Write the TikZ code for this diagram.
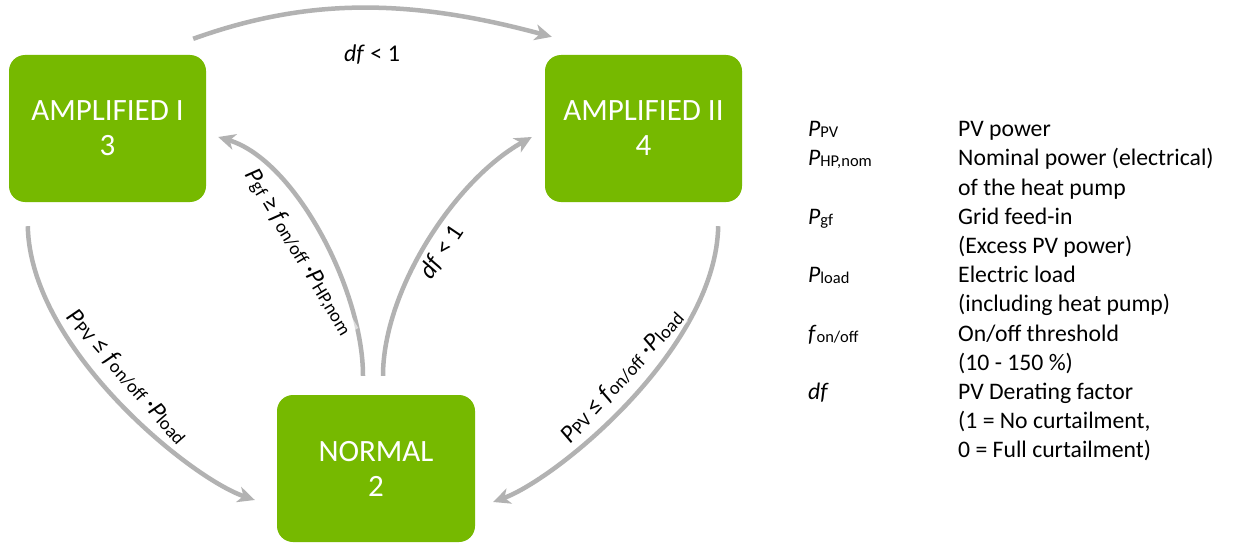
\documentclass[tikz,border=0pt]{standalone}
\usepackage{fontspec}
\setmainfont{Carlito}
\usetikzlibrary{arrows.meta}
\definecolor{boxgreen}{RGB}{118,185,0}
\definecolor{arrgray}{RGB}{178,178,178}
\newcommand\sbs[1]{\raisebox{-1pt}{\fontsize{16.5}{16.5}\selectfont #1}}
\newcommand\sbe[1]{\raisebox{-1pt}{\fontsize{18.5}{18.5}\selectfont #1}}
\begin{document}
\begin{tikzpicture}[x=1pt,y=-1pt,
 state/.style={fill=boxgreen, rounded corners=16pt, minimum width=197pt, minimum height=147pt, text=white, align=center, font=\fontsize{31}{35}\selectfont, inner sep=0pt},
 conn/.style={draw=arrgray, line width=4.5pt, -{Stealth[length=17pt,width=16pt,inset=5pt]}},
 elabel/.style={font=\fontsize{25}{28}\selectfont, fill=white, fill opacity=0.55, text opacity=1, inner sep=1pt},
 leg/.style={anchor=base west, font=\fontsize{23.7}{26}\selectfont, inner sep=0pt}]
\useasboundingbox[fill=white] (0,0) rectangle (1234,543);

\node[state] (a1) at (107.5,128.5) {AMPLIFIED I\\3};
\node[state] (a2) at (643.5,128.5) {AMPLIFIED II\\4};
\node[state, minimum width=198pt] (n) at (376,468.5) {NORMAL\\2};

% top: AMPLIFIED I -> AMPLIFIED II
\draw[conn] ([shift={(-13,-16)}]a1.north east) .. controls (307,-2) and (408,-2) .. ([shift={(7,-18)}]a2.north west);
\node[anchor=base, font=\fontsize{24}{26}\selectfont] (l1) at (372,62) {\textit{df} < 1};

% left: AMPLIFIED I -> NORMAL
\draw[conn] ([shift={(19,24)}]a1.south west) .. controls (30,348) and (190,478) .. ([shift={(-22,31.5)}]n.west);
\node[elabel, rotate=-48.7] (l2) at (127,377) {\textit{P}\sbe{PV} ≤ \textit{f}\sbe{on/off} ·\textit{P}\sbe{load}};

% right: AMPLIFIED II -> NORMAL
\draw[conn] ([shift={(-24,24)}]a2.south east) .. controls (716,348) and (558,478) .. ([shift={(18,33.5)}]n.east);
\node[elabel, rotate=47.7] (l3) at (622,377) {\textit{P}\sbe{PV} ≤ \textit{f}\sbe{on/off} ·\textit{P}\sbe{load}};

% middle left: NORMAL -> AMPLIFIED I
\draw[conn] ([shift={(-13,-19)}]n.north) .. controls (363,290) and (295,160) .. ([shift={(12,8.5)}]a1.east);
\node[elabel, rotate=-59] (l4) at (299,252) {\textit{P}\sbe{gf} ≥ \textit{f}\sbe{on/off} ·\textit{P}\sbe{HP,nom}};

% middle right: NORMAL -> AMPLIFIED II
\draw[conn] ([shift={(7,-19)}]n.north) .. controls (383,290) and (455,180) .. ([shift={(-13,8.5)}]a2.west);
\node[elabel, rotate=56] (l5) at (442,252) {\textit{df} < 1};

% legend
\node[leg] (s1) at (808,136.7) {\textit{P}\sbs{PV}};
\node[leg] (s2) at (808,165.9) {\textit{P}\sbs{HP,nom}};
\node[leg] (s3) at (808,224.3) {\textit{P}\sbs{gf}};
\node[leg] (s4) at (808,282.7) {\textit{P}\sbs{load}};
\node[leg] (s5) at (808,341.1) {\textit{f}\sbs{on/off}};
\node[leg] (s6) at (808,399.5) {\textit{df}};

\node[leg] (d1) at (958,136.7) {PV power};
\node[leg] (d2) at (958,165.9) {Nominal power (electrical)};
\node[leg] (d3) at (958,195.1) {of the heat pump};
\node[leg] (d4) at (958,224.3) {Grid feed-in};
\node[leg] (d5) at (958,253.5) {(Excess PV power)};
\node[leg] (d6) at (958,282.7) {Electric load};
\node[leg] (d7) at (958,311.9) {(including heat pump)};
\node[leg] (d8) at (958,341.1) {On/off threshold};
\node[leg] (d9) at (958,370.3) {(10 - 150 \%)};
\node[leg] (d10) at (958,399.5) {PV Derating factor};
\node[leg] (d11) at (958,428.7) {(1 = No curtailment,};
\node[leg] (d12) at (958,457.9) {0 = Full curtailment)};
\end{tikzpicture}
\end{document}
